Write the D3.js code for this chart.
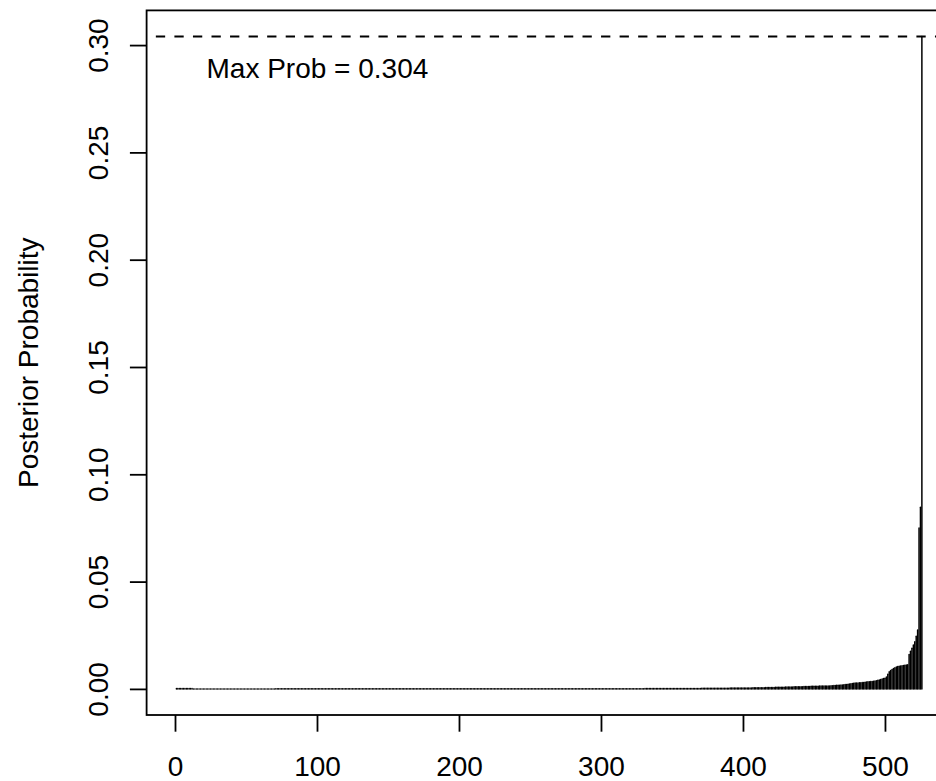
<!DOCTYPE html>
<html><head><meta charset="utf-8">
<script src="https://cdn.jsdelivr.net/npm/d3@7"></script>
<style>body{margin:0;background:#fff}svg{display:block}text{font-family:"Liberation Sans",Arial,sans-serif;fill:#000}</style>
</head><body><svg id="c" width="936" height="781"></svg>
<script>
// Posterior probability of each model (model index 1..526)
const probs = [
0.00015,0.00015,0.00015,0.00015,0.00015,0.00015,0.00015,0.00015,0.00015,0.00015,0.00015,0.00015,
0.00001,0.00001,0.00001,0.00001,0.00001,0.00001,0.00001,0.00001,0.00001,0.00001,
0.00001,0.00001,0.00001,0.00001,0.00001,0.00001,0.00001,0.00001,0.00001,0.00001,
0.00001,0.00001,0.00001,0.00001,0.00001,0.00001,0.00001,0.00001,0.00001,0.00001,
0.00001,0.00001,0.00001,0.00001,0.00001,0.00001,0.00001,0.00001,
0.000012,0.000012,0.000012,0.000012,0.000012,0.000012,0.000012,0.000012,0.000012,0.000012,
0.000013,0.000013,0.000013,0.000013,0.000013,0.000013,0.000013,0.000013,0.000013,0.000013,
0.000014,0.000014,0.000014,0.000014,0.000014,0.000014,0.000014,0.000014,0.000014,0.000014,
0.000015,0.000015,0.000015,0.000015,0.000015,0.000015,0.000015,0.000015,0.000015,0.000015,
0.000017,0.000017,0.000017,0.000017,0.000017,0.000017,0.000017,0.000017,0.000017,0.000017,
0.000019,0.000019,0.000019,0.000019,0.000019,0.000019,0.000019,0.000019,0.000019,0.000019,
0.000020,0.000020,0.000020,0.000020,0.000020,0.000020,0.000020,0.000020,0.000020,0.000020,
0.000022,0.000022,0.000022,0.000022,0.000022,0.000022,0.000022,0.000022,0.000022,0.000022,
0.000024,0.000024,0.000024,0.000024,0.000024,0.000024,0.000024,0.000024,0.000024,0.000024,
0.000025,0.000025,0.000025,0.000025,0.000025,0.000025,0.000025,0.000025,0.000025,0.000025,
0.000027,0.000027,0.000027,0.000027,0.000027,0.000027,0.000027,0.000027,0.000027,0.000027,
0.000029,0.000029,0.000029,0.000029,0.000029,0.000029,0.000029,0.000029,0.000029,0.000029,
0.000031,0.000031,0.000031,0.000031,0.000031,0.000031,0.000031,0.000031,0.000031,0.000031,
0.000034,0.000034,0.000034,0.000034,0.000034,0.000034,0.000034,0.000034,0.000034,0.000034,
0.000037,0.000037,0.000037,0.000037,0.000037,0.000037,0.000037,0.000037,0.000037,0.000037,
0.000040,0.000040,0.000040,0.000040,0.000040,0.000040,0.000040,0.000040,0.000040,0.000040,
0.000044,0.000044,0.000044,0.000044,0.000044,0.000044,0.000044,0.000044,0.000044,0.000044,
0.000048,0.000048,0.000048,0.000048,0.000048,0.000048,0.000048,0.000048,0.000048,0.000048,
0.000052,0.000052,0.000052,0.000052,0.000052,0.000052,0.000052,0.000052,0.000052,0.000052,
0.000057,0.000057,0.000057,0.000057,0.000057,0.000057,0.000057,0.000057,0.000057,0.000057,
0.000062,0.000062,0.000062,0.000062,0.000062,0.000062,0.000062,0.000062,0.000062,0.000062,
0.000068,0.000068,0.000068,0.000068,0.000068,0.000068,0.000068,0.000068,0.000068,0.000068,
0.000075,0.000075,0.000075,0.000075,0.000075,0.000075,0.000075,0.000075,0.000075,0.000075,
0.000083,0.000083,0.000083,0.000083,0.000083,0.000083,0.000083,0.000083,0.000083,0.000083,
0.000092,0.000092,0.000092,0.000092,0.000092,0.000092,0.000092,0.000092,0.000092,0.000092,
0.00010,0.00010,0.00010,0.00010,0.00010,0.00010,0.00010,0.00010,0.00010,0.00010,
0.00011,0.00011,0.00011,0.00011,0.00011,0.00011,0.00011,0.00011,0.00011,0.00011,
0.00012,0.00012,0.00012,0.00012,0.00012,0.00012,0.00012,0.00012,0.00012,0.00012,
0.00014,0.00014,0.00014,0.00014,0.00014,0.00014,0.00014,0.00014,0.00014,0.00014,
0.00016,0.00016,0.00016,0.00016,0.00016,0.00016,0.00016,0.00016,0.00016,0.00016,
0.00019,0.00019,0.00019,0.00019,0.00019,0.00019,0.00019,0.00019,0.00019,0.00019,
0.00022,0.00022,0.00022,0.00022,0.00022,0.00022,0.00022,0.00022,0.00022,0.00022,
0.00026,0.00026,0.00026,0.00026,0.00026,0.00026,0.00026,0.00026,0.00026,0.00026,
0.00031,0.00031,0.00031,0.00031,0.00031,0.00031,0.00031,0.00031,0.00031,0.00031,
0.00037,0.00037,0.00037,0.00037,0.00037,0.00037,0.00037,0.00037,0.00037,0.00037,
0.00045,0.00045,0.00045,0.00046,0.00046,0.00047,0.00048,0.00049,0.00050,0.00052,
0.00054,0.00055,0.00056,0.00057,0.00059,0.00061,0.00063,0.00065,0.00066,0.00068,
0.00069,0.00070,0.00072,0.00073,0.00075,0.00077,0.00078,0.00080,0.00081,0.00083,
0.00085,0.00087,0.00089,0.00091,0.00093,0.00095,0.00097,0.00099,0.00100,0.00102,
0.00104,0.00106,0.00108,0.00110,0.00112,0.00114,0.00116,0.00118,0.00120,0.00122,
0.00124,0.00126,0.00128,0.00130,0.00132,0.00134,0.00135,0.00136,0.00138,0.00139,
0.0014,0.00145,0.0015,0.00155,0.0016,0.00165,0.0017,0.00175,0.0018,0.00185,0.0019,
0.0020,0.0021,0.0022,0.0023,0.0024,0.0025,0.0026,0.0027,0.0027,0.0028,0.0029,
0.0029,0.0030,0.0030,0.0031,0.0032,0.0033,0.0033,0.0034,0.0035,0.0036,0.0037,0.0038,0.0040,0.0042,
0.0044,0.0046,0.0048,0.0050,0.0056,0.0068,0.0080,0.0086,0.0090,0.0095,
0.0099,0.0102,0.0104,0.0106,0.0107,0.0108,0.0109,0.0110,0.0111,0.0112,
0.0160,0.0175,0.0190,0.0205,0.0220,0.0245,0.0275,0.0750,0.0846,0.3040
];
const xTicks = [0, 100, 200, 300, 400, 500];
const xTickLabels = ["0", "100", "200", "300", "400", "500"];
const yTicks = [0, 0.05, 0.10, 0.15, 0.20, 0.25, 0.30];
const yTickLabels = ["0.00", "0.05", "0.10", "0.15", "0.20", "0.25", "0.30"];
const yTitle = "Posterior Probability";
const maxProb = d3.max(probs);
const maxLabel = "Max Prob = " + maxProb.toFixed(3);

const svg = d3.select("#c");
const FS = 28;
const n = probs.length;
const xpad = 0.04 * (n - 1);
const x = d3.scaleLinear().domain([1 - xpad, n + xpad]).range([146.6, 951.7]);
const ypad = 0.04 * maxProb;
const y = d3.scaleLinear().domain([-ypad, maxProb + ypad]).range([715, 10.4]);

// bars (type = "h")
svg.append("g").selectAll("line").data(probs).join("line")
  .attr("x1", (d, i) => x(i + 1)).attr("x2", (d, i) => x(i + 1))
  .attr("y1", y(0)).attr("y2", d => y(d))
  .attr("stroke", "#000").attr("stroke-width", 1.5).attr("stroke-linecap", "round");

// dashed max line
svg.append("line")
  .attr("x1", x(1 - xpad)).attr("x2", x(n + xpad))
  .attr("y1", y(maxProb)).attr("y2", y(maxProb))
  .attr("stroke", "#000").attr("stroke-width", 1.8)
  .attr("stroke-dasharray", "9.3,9.25").attr("stroke-dashoffset", 9.3);

// box
svg.append("rect")
  .attr("x", x(1 - xpad)).attr("y", y(maxProb + ypad))
  .attr("width", x(n + xpad) - x(1 - xpad)).attr("height", y(-ypad) - y(maxProb + ypad))
  .attr("fill", "none").attr("stroke", "#000").attr("stroke-width", 1.8);

// x axis
const gx = svg.append("g").attr("transform", `translate(0,${y(-ypad)})`)
  .call(d3.axisBottom(x).tickValues(xTicks).tickSize(16.7).tickFormat((d, i) => xTickLabels[i]));
gx.select(".domain").remove();
gx.selectAll(".tick line").attr("stroke", "#000").attr("stroke-width", 1.8);
gx.selectAll(".tick text").attr("y", 61).attr("dy", 0)
  .style("font-size", FS + "px").style("font-family", '"Liberation Sans",Arial,sans-serif').attr("fill", "#000");

// y axis
const gy = svg.append("g").attr("transform", `translate(${x(1 - xpad)},0)`)
  .call(d3.axisLeft(y).tickValues(yTicks).tickSize(16.7).tickFormat((d, i) => yTickLabels[i]));
gy.select(".domain").remove();
gy.selectAll(".tick line").attr("stroke", "#000").attr("stroke-width", 1.8);
gy.selectAll(".tick text").attr("x", null).attr("dy", 0).attr("y", 0)
  .attr("text-anchor", "middle")
  .attr("transform", `translate(${108 - x(1 - xpad)},0) rotate(-90)`)
  .style("font-size", FS + "px").style("font-family", '"Liberation Sans",Arial,sans-serif').attr("fill", "#000");

// y title
svg.append("text")
  .attr("transform", `translate(38,${(y(-ypad) + y(maxProb + ypad)) / 2}) rotate(-90)`)
  .attr("text-anchor", "middle").style("font-size", FS + "px").text(yTitle);

// max label
svg.append("text").attr("x", 206.5).attr("y", 78.3)
  .style("font-size", FS + "px").text(maxLabel);
</script>
</body></html>
